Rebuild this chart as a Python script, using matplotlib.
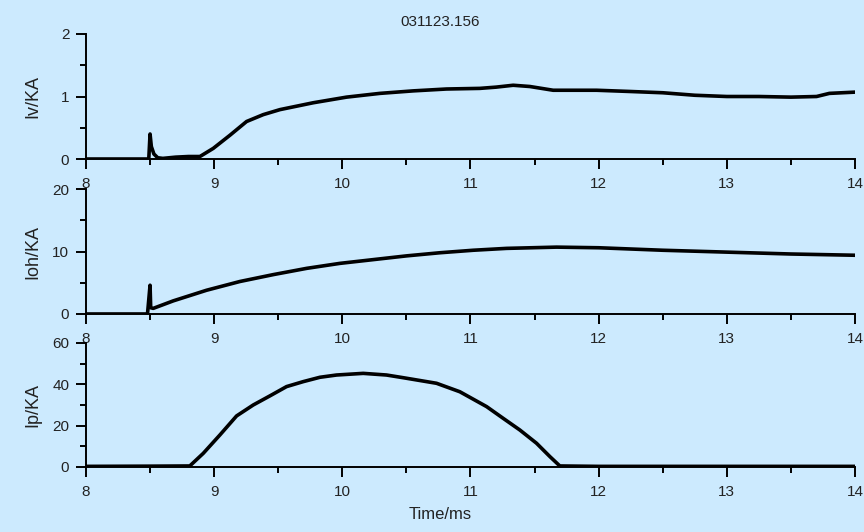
import numpy as np
import matplotlib.pyplot as plt
from matplotlib.ticker import MultipleLocator

plt.rcParams['font.family'] = ['Liberation Sans', 'DejaVu Sans']

# Iv signal (KA) vs time (ms)
t_iv = [8.0, 8.2, 8.45, 8.49, 8.5, 8.51, 8.53, 8.56, 8.6, 8.7, 8.8, 8.889,
        8.993, 9.123, 9.253, 9.383, 9.513, 9.773, 10.033, 10.293, 10.553,
        10.813, 11.073, 11.2, 11.333, 11.463, 11.645, 11.984, 12.25, 12.5,
        12.75, 13.0, 13.25, 13.5, 13.7, 13.8, 14.0]
iv = [0, 0, 0, 0, 0.4, 0.2, 0.08, 0.02, 0.01, 0.03, 0.04, 0.04,
      0.17, 0.38, 0.6, 0.71, 0.79, 0.9, 0.99, 1.05, 1.09,
      1.12, 1.13, 1.15, 1.18, 1.16, 1.10, 1.10, 1.08, 1.06,
      1.02, 1.0, 1.0, 0.99, 1.0, 1.05, 1.07]

# Ioh signal
t_ioh = [8.0, 8.48, 8.5, 8.505, 8.525, 8.681, 8.941, 9.201, 9.461, 9.721,
         9.981, 10.241, 10.501, 10.761, 11.021, 11.281, 11.671, 12.0, 12.5,
         13.0, 13.5, 14.0]
ioh = [0, 0, 4.6, 1.0, 0.9, 2.1, 3.8, 5.2, 6.3, 7.3,
       8.1, 8.7, 9.3, 9.8, 10.2, 10.5, 10.7, 10.6, 10.2,
       9.9, 9.6, 9.4]

# Ip signal
t_ip = [8.0, 8.5, 8.81, 8.915, 9.045, 9.175, 9.305, 9.435, 9.565, 9.695,
        9.825, 9.955, 10.163, 10.345, 10.475, 10.735, 10.917, 11.126, 11.256,
        11.385, 11.515, 11.62, 11.697, 12.0, 14.0]
ip = [0.3, 0.4, 0.5, 6.6, 15.5, 24.7, 30.0, 34.4, 38.9, 41.3,
      43.4, 44.5, 45.3, 44.5, 43.2, 40.5, 36.4, 29.2, 23.5,
      17.9, 11.5, 5.0, 0.5, 0.3, 0.3]

bg = '#cceafe'
fig = plt.figure(figsize=(8.64, 5.32), dpi=100, facecolor=bg)

panels = [
    (t_iv, iv, 2, 1, 0.5, 'Iv/KA', [0.0995, 0.7011, 0.8901, 0.2350], 0.182),
    (t_ioh, ioh, 20, 10, 5, 'Ioh/KA', [0.0995, 0.4098, 0.8901, 0.2349], 0.474),
    (t_ip, ip, 60, 20, 10, 'Ip/KA', [0.0995, 0.1222, 0.8901, 0.2331], 0.761),
]

for t, y, ymax, major, minor, label, pos, ylab_y in panels:
    ax = fig.add_axes(pos)
    ax.patch.set_visible(False)
    ax.plot(t, y, color='black', lw=2.6)
    ax.set_xlim(8, 14)
    ax.set_ylim(0, ymax)
    ax.xaxis.set_major_locator(MultipleLocator(1))
    ax.xaxis.set_minor_locator(MultipleLocator(0.5))
    ax.yaxis.set_major_locator(MultipleLocator(major))
    ax.yaxis.set_minor_locator(MultipleLocator(minor))
    for s in ['top', 'right']:
        ax.spines[s].set_visible(False)
    for s in ['left', 'bottom']:
        ax.spines[s].set_linewidth(1.4)
    ax.tick_params(which='major', direction='out', length=7, width=1.4,
                   labelsize=11, pad=5, colors='black')
    ax.tick_params(which='minor', direction='out', length=4, width=1.4)
    ax.tick_params(axis='x', which='major', pad=6)
    for lbl in ax.get_xticklabels() + ax.get_yticklabels():
        lbl.set_color('#222222')
    fig.text(0.038, 1 - ylab_y, label, rotation=90, ha='center', va='center',
             fontsize=13, color='#222222')

fig.text(0.509, 0.958, '031123.156', ha='center', va='center', fontsize=11,
         color='#222222')
fig.text(0.509, 0.032, 'Time/ms', ha='center', va='center', fontsize=12,
         color='#222222')

fig.savefig('out.png', dpi=100, facecolor=bg)
